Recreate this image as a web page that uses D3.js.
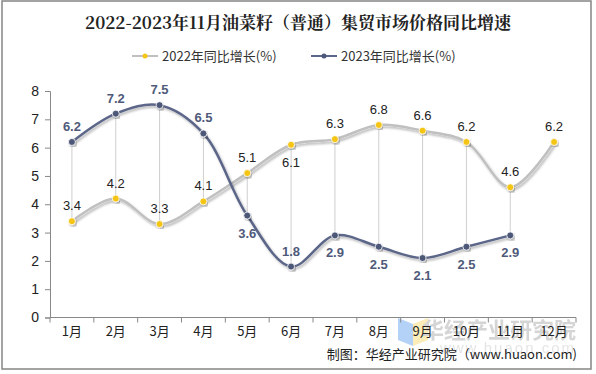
<!DOCTYPE html>
<html>
<head>
<meta charset="utf-8">
<script src="https://cdn.jsdelivr.net/npm/d3@7"></script>
<style>
  body { margin: 0; background: #fff; }
  svg { display: block; font-family: "Liberation Sans", Arial, sans-serif; }
</style>
</head>
<body>
<svg id="chart" width="596" height="374"></svg>
<script>
// data
const months = ['1月', '2月', '3月', '4月', '5月', '6月', '7月', '8月', '9月', '10月', '11月', '12月'];
const growth2022 = [3.4, 4.2, 3.3, 4.1, 5.1, 6.1, 6.3, 6.8, 6.6, 6.2, 4.6, 6.2];
const growth2023 = [6.2, 7.2, 7.5, 6.5, 3.6, 1.8, 2.9, 2.5, 2.1, 2.5, 2.9];
const yTicks = [0, 1, 2, 3, 4, 5, 6, 7, 8];

const svg = d3.select('#chart');
const cjk = '"Noto Sans CJK SC", sans-serif';

// shadow for lines
const defs = svg.append('defs');
const f = defs.append('filter').attr('id', 'shadow').attr('x', '-10%').attr('y', '-10%').attr('width', '120%').attr('height', '130%');
f.append('feDropShadow').attr('dx', 1.5).attr('dy', 2).attr('stdDeviation', 1.2)
    .attr('flood-color', '#000').attr('flood-opacity', 0.28);

svg.append('rect')
    .attr('x', 2).attr('y', 1).attr('width', 589).attr('height', 368)
    .attr('fill', '#fff').attr('stroke', '#858585').attr('stroke-width', 1.5);

// title
svg.append('text')
    .attr('x', 298).attr('y', 29)
    .attr('text-anchor', 'middle')
    .style('font-family', '"Noto Serif CJK SC", "Noto Sans CJK SC", serif')
    .style('font-size', '17px').style('font-weight', 'bold').style('fill', '#222')
    .text('2022-2023年11月油菜籽（普通）集贸市场价格同比增速');

const x = d3.scaleBand().domain(months).range([50, 576]);
const y = d3.scaleLinear().domain([0, 8]).range([317.5, 91]);
const cx = i => x(months[i]) + x.bandwidth() / 2;

// watermark (behind the axis labels)
const wm = svg.append('g').attr('opacity', 0.75);
wm.append('path').attr('d', 'M398,318 L413,324 L413,346 L398,340 Z').attr('fill', '#9cc3f5');
wm.append('path').attr('d', 'M413,324 L428,318 L428,340 L413,346 Z').attr('fill', '#fbe7a1');
wm.append('text').attr('x', 576).attr('y', 338).attr('text-anchor', 'end')
    .style('font-family', cjk).style('font-size', '22px').style('font-weight', 'bold')
    .style('fill', '#c8c8c8').text('华经产业研究院');
wm.append('text').attr('x', 576).attr('y', 353).attr('text-anchor', 'end')
    .style('font-family', '"Liberation Sans", Arial, sans-serif').style('font-size', '15px')
    .style('fill', '#dcdcdc').style('letter-spacing', '2px').text('www.huaon.com');

// axes
const yAxis = svg.append('g').attr('transform', 'translate(50,0)')
    .call(d3.axisLeft(y).tickValues(yTicks).tickSize(5).tickPadding(6).tickFormat(d3.format('d')));
yAxis.select('.domain').attr('stroke', '#888');
yAxis.selectAll('.tick line').attr('stroke', '#888');
yAxis.selectAll('.tick text').style('font-size', '14px').style('fill', '#222')
    .style('font-family', '"Liberation Sans", Arial, sans-serif');

const xAxis = svg.append('g').attr('transform', 'translate(0,317.5)');
xAxis.append('line').attr('x1', 50).attr('x2', 576).attr('stroke', '#888');
xAxis.selectAll('.sep').data(months.concat(['end']))
    .enter().append('line')
    .attr('x1', (d, i) => 50 + i * x.bandwidth())
    .attr('x2', (d, i) => 50 + i * x.bandwidth())
    .attr('y1', 0).attr('y2', 5).attr('stroke', '#888');
xAxis.selectAll('.lbl').data(months)
    .enter().append('text')
    .attr('x', d => x(d) + x.bandwidth() / 2)
    .attr('y', 18)
    .attr('text-anchor', 'middle')
    .style('font-family', cjk).style('font-size', '13px').style('fill', '#222')
    .text(d => d);

// drop lines between the two series
svg.append('g').selectAll('line').data(growth2023)
    .enter().append('line')
    .attr('x1', (d, i) => cx(i)).attr('x2', (d, i) => cx(i))
    .attr('y1', (d, i) => y(d)).attr('y2', (d, i) => y(growth2022[i]))
    .attr('stroke', '#cfcfcf').attr('stroke-width', 1);

const line = d3.line().x((d, i) => cx(i)).y(d => y(d)).curve(d3.curveCatmullRom.alpha(0.5));

function drawSeries(vals, lineColor, dotColor, labelColor, bold, below) {
    const g = svg.append('g');
    g.append('path').datum(vals)
        .attr('d', line)
        .attr('fill', 'none').attr('stroke', lineColor).attr('stroke-width', 2.5)
        .attr('filter', 'url(#shadow)');
    g.selectAll('circle').data(vals).enter().append('circle')
        .attr('cx', (d, i) => cx(i)).attr('cy', d => y(d)).attr('r', 3.5)
        .attr('fill', dotColor).attr('stroke', '#fff').attr('stroke-width', 0.8)
        .attr('filter', 'url(#shadow)');
    g.selectAll('text').data(vals).enter().append('text')
        .attr('x', (d, i) => cx(i))
        .attr('y', (d, i) => below.includes(i) ? y(d) + 22 : y(d) - 11)
        .attr('text-anchor', 'middle')
        .style('font-size', '13px')
        .style('font-weight', bold ? 'bold' : 'normal')
        .style('fill', labelColor)
        .text(d => d.toFixed(1));
}

drawSeries(growth2022, '#c0c0c0', '#f5c518', '#222', false, [5]);
drawSeries(growth2023, '#5c6689', '#4e5878', '#4f5a7a', true, [4, 6, 7, 8, 9, 10]);

// legend
const legend = [
    {name: '2022年同比增长(%)', line: '#c0c0c0', dot: '#f5c518', x: 132},
    {name: '2023年同比增长(%)', line: '#5c6689', dot: '#4e5878', x: 311}
];
const lg = svg.append('g');
legend.forEach(l => {
    lg.append('line').attr('x1', l.x).attr('x2', l.x + 26).attr('y1', 56).attr('y2', 56)
        .attr('stroke', l.line).attr('stroke-width', 2);
    lg.append('circle').attr('cx', l.x + 13).attr('cy', 56).attr('r', 2.5).attr('fill', l.dot);
    lg.append('text').attr('x', l.x + 30).attr('y', 61)
        .style('font-family', cjk).style('font-size', '13px').style('fill', '#333')
        .text(l.name);
});

// source note
svg.append('text')
    .attr('x', 577).attr('y', 359).attr('text-anchor', 'end')
    .style('font-family', cjk).style('font-size', '13px').style('fill', '#222')
    .text('制图：华经产业研究院（www.huaon.com)');
</script>
</body>
</html>
